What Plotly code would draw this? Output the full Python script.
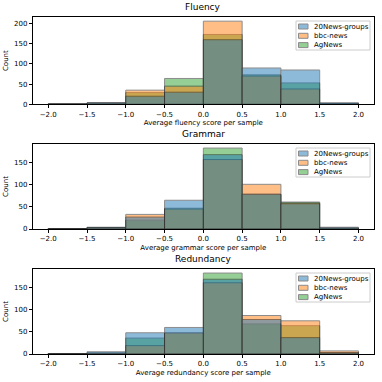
import plotly.graph_objects as go

bin_centers = [-1.75, -1.25, -0.75, -0.25, 0.25, 0.75, 1.25, 1.75]
series_names = ["20News-groups", "bbc-news", "AgNews"]
colors = ["#1f77b4", "#ff7f0e", "#2ca02c"]

fluency_20news = [1, 4, 20, 30, 160, 90, 85, 4]
fluency_bbc = [1, 3, 35, 45, 206, 70, 38, 2]
fluency_ag = [1, 3, 29, 64, 173, 73, 53, 1]

grammar_20news = [1, 4, 27, 65, 168, 79, 57, 4]
grammar_bbc = [1, 3, 33, 45, 157, 101, 59, 2]
grammar_ag = [1, 3, 20, 47, 183, 78, 61, 2]

redundancy_20news = [1, 5, 48, 60, 169, 78, 37, 3]
redundancy_bbc = [1, 2, 19, 48, 161, 87, 75, 7]
redundancy_ag = [1, 2, 36, 47, 183, 68, 64, 3]

panel_titles = ["Fluency", "Grammar", "Redundancy"]
xlabels = ["Average fluency score per sample", "Average grammar score per sample",
           "Average redundancy score per sample"]
x_tickvals = [-2.0, -1.5, -1.0, -0.5, 0.0, 0.5, 1.0, 1.5, 2.0]
x_ticktext = ["\u22122.0", "\u22121.5", "\u22121.0", "\u22120.5", "0.0", "0.5", "1.0", "1.5", "2.0"]
y_ticks = [[0, 50, 100, 150, 200], [0, 50, 100, 150], [0, 50, 100, 150]]

panels = [
    [fluency_20news, fluency_bbc, fluency_ag],
    [grammar_20news, grammar_bbc, grammar_ag],
    [redundancy_20news, redundancy_bbc, redundancy_ag],
]

W = H = 382
xdom = [32.7 / W, 374 / W]
# pixel tops/bottoms of each axes
pix = [(17, 104.3), (144, 229), (269, 354)]


def px(xp):
    return xp / W


def py(yp):
    return 1 - yp / H


FONT = "DejaVu Sans"
fig = go.Figure()
layout = dict(
    width=W, height=H, margin=dict(l=0, r=0, t=0, b=0),
    plot_bgcolor="white", paper_bgcolor="white",
    barmode="overlay", font=dict(family=FONT, size=7, color="black"),
    showlegend=False,
    annotations=[], shapes=[],
)

for i, data in enumerate(panels):
    k = "" if i == 0 else str(i + 1)
    ymax = max(max(s) for s in data) * 1.05
    # first series drawn last (on top), as in a layered seaborn histplot
    for j in reversed(range(len(data))):
        fig.add_trace(go.Bar(
            x=bin_centers, y=data[j], width=0.5, name=series_names[j],
            marker=dict(color=colors[j], line=dict(color="#1a1a1a", width=1)),
            opacity=0.5, xaxis="x" + k, yaxis="y" + k,
        ))
    top, bot = pix[i]
    ydom = [py(bot), py(top)]
    layout["xaxis" + k] = dict(
        domain=xdom, range=[-2.2, 2.2], anchor="y" + k,
        tickvals=x_tickvals, ticktext=x_ticktext, ticks="outside", ticklen=3,
        tickcolor="black", showline=True, linecolor="black", linewidth=0.8,
        mirror=True, showgrid=False, zeroline=False,
        title=dict(text=xlabels[i], font=dict(size=7), standoff=2),
        tickfont=dict(size=7), automargin=False,
    )
    layout["yaxis" + k] = dict(
        domain=ydom, range=[0, ymax], anchor="x" + k,
        tickvals=y_ticks[i], ticks="outside", ticklen=3, tickcolor="black",
        showline=True, linecolor="black", linewidth=0.8, mirror=True,
        showgrid=False, zeroline=False,
        title=dict(text="Count", font=dict(size=7), standoff=4),
        tickfont=dict(size=7), automargin=False,
    )
    layout["annotations"].append(dict(
        text=panel_titles[i], x=(xdom[0] + xdom[1]) / 2, y=py(top - 3),
        xref="paper", yref="paper", xanchor="center", yanchor="bottom",
        showarrow=False, font=dict(size=9),
    ))
    # manual legend
    bx0, bx1 = 296, 370
    by0, by1 = top + 4, top + 33
    layout["shapes"].append(dict(
        type="rect", xref="paper", yref="paper",
        x0=px(bx0), x1=px(bx1), y0=py(by1), y1=py(by0),
        fillcolor="rgba(255,255,255,0.8)", line=dict(color="#cccccc", width=1),
        layer="above",
    ))
    for j, name in enumerate(series_names):
        cy = top + 9.5 + j * 9.3
        layout["shapes"].append(dict(
            type="rect", xref="paper", yref="paper",
            x0=px(298.5), x1=px(308), y0=py(cy + 2.5), y1=py(cy - 2.5),
            fillcolor=colors[j], opacity=0.5,
            line=dict(color="#1a1a1a", width=1), layer="above",
        ))
        layout["annotations"].append(dict(
            text=name, x=px(311.5), y=py(cy), xref="paper", yref="paper",
            xanchor="left", yanchor="middle", showarrow=False,
            font=dict(size=7),
        ))

fig.update_layout(**layout)
fig.write_html("out.html", config={"displayModeBar": False},
               post_script="document.body.style.margin='0';")
